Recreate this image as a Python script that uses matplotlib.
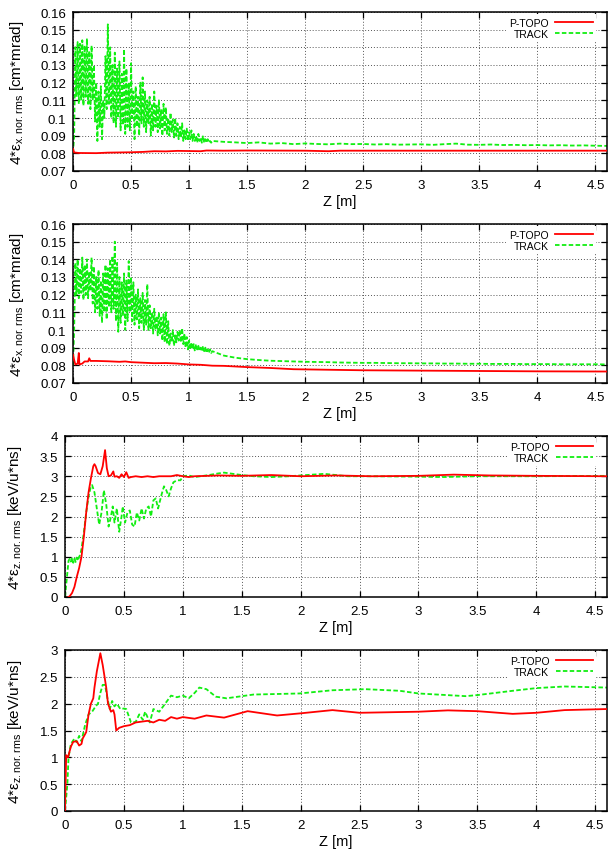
import numpy as np
import matplotlib
matplotlib.use("Agg")
import matplotlib.pyplot as plt
from matplotlib.ticker import FormatStrFormatter, MultipleLocator

plt.rcParams['font.family'] = ['Liberation Sans', 'DejaVu Sans']
plt.rcParams['mathtext.fontset'] = 'custom'
plt.rcParams['mathtext.rm'] = 'Liberation Sans'
plt.rcParams['mathtext.it'] = 'Liberation Sans:italic'

# ---------------- data ----------------
# Panel 1 (x emittance, case 1) TRACK: peaks and troughs of the fast oscillation
p1_track_hi = [0.140, 0.143, 0.142, 0.144, 0.141, 0.145, 0.138, 0.141, 0.130, 0.120,
               0.115, 0.118, 0.110, 0.135, 0.153, 0.140, 0.130, 0.137, 0.128, 0.132,
               0.125, 0.139, 0.128, 0.120, 0.131, 0.115, 0.118, 0.112, 0.120, 0.123,
               0.115, 0.110, 0.112, 0.108, 0.115, 0.107, 0.110, 0.105, 0.108, 0.106,
               0.100, 0.103, 0.099, 0.100, 0.097, 0.095, 0.097, 0.093, 0.094, 0.092,
               0.093, 0.091, 0.090, 0.091, 0.089, 0.090, 0.088, 0.088, 0.087, 0.087]
p1_track_lo = [0.090, 0.112, 0.108, 0.110, 0.107, 0.112, 0.108, 0.105, 0.110, 0.098,
               0.087, 0.095, 0.088, 0.100, 0.105, 0.108, 0.100, 0.097, 0.095, 0.100,
               0.093, 0.096, 0.091, 0.095, 0.093, 0.100, 0.088, 0.095, 0.090, 0.097,
               0.095, 0.092, 0.097, 0.090, 0.093, 0.095, 0.092, 0.094, 0.090, 0.093,
               0.091, 0.090, 0.092, 0.089, 0.090, 0.088, 0.089, 0.087, 0.088, 0.087,
               0.088, 0.087, 0.087, 0.086, 0.087, 0.086, 0.086, 0.086, 0.086, 0.086]
p1_track_tail = [0.0865, 0.0862, 0.0858, 0.0862, 0.0855, 0.0858, 0.0852, 0.0856, 0.0853, 0.0851,
                 0.0855, 0.0852, 0.0853, 0.0850, 0.0852, 0.0849, 0.0850, 0.0851, 0.0848, 0.0852,
                 0.0855, 0.0849, 0.0848, 0.0850, 0.0847, 0.0848, 0.0846, 0.0847, 0.0845, 0.0846,
                 0.0844, 0.0845, 0.0843, 0.0842]
p1_topo_z = [0.0, 0.01, 0.05, 0.2, 0.3, 0.4, 0.5, 0.6, 0.7, 0.8, 0.9, 1.0, 1.1, 1.15,
             1.3, 1.5, 2.0, 2.2, 2.3, 3.0, 3.5, 4.0, 4.6]
p1_topo = [0.0825, 0.0805, 0.0802, 0.0801, 0.0804, 0.0805, 0.0806, 0.0808, 0.0812, 0.0811,
           0.0814, 0.0813, 0.0812, 0.0816, 0.0815, 0.0816, 0.0815, 0.0812, 0.0815, 0.0815,
           0.0815, 0.0815, 0.0815]

# Panel 2 (x emittance, case 2)
p2_track_hi = [0.138, 0.140, 0.135, 0.141, 0.137, 0.140, 0.133, 0.141, 0.136, 0.130,
               0.134, 0.128, 0.132, 0.137, 0.135, 0.140, 0.142, 0.150, 0.138, 0.130,
               0.127, 0.132, 0.128, 0.139, 0.130, 0.127, 0.120, 0.123, 0.118, 0.121,
               0.117, 0.126, 0.114, 0.110, 0.112, 0.108, 0.110, 0.107, 0.109, 0.110,
               0.105, 0.098, 0.100, 0.097, 0.099, 0.100, 0.101, 0.098, 0.096, 0.094,
               0.093, 0.092, 0.092, 0.091, 0.090, 0.091, 0.090, 0.089, 0.089, 0.088]
p2_track_lo = [0.100, 0.120, 0.118, 0.121, 0.117, 0.120, 0.118, 0.122, 0.115, 0.110,
               0.112, 0.108, 0.104, 0.110, 0.106, 0.113, 0.110, 0.112, 0.105, 0.099,
               0.104, 0.108, 0.100, 0.105, 0.110, 0.105, 0.103, 0.106, 0.101, 0.104,
               0.100, 0.103, 0.100, 0.101, 0.098, 0.100, 0.097, 0.098, 0.094, 0.093,
               0.092, 0.091, 0.093, 0.091, 0.093, 0.094, 0.093, 0.092, 0.090, 0.089,
               0.089, 0.089, 0.088, 0.089, 0.088, 0.088, 0.088, 0.087, 0.087, 0.087]
p2_track_tail = [0.0855, 0.0843, 0.0835, 0.0830, 0.0826, 0.0824, 0.0822, 0.0820, 0.0819, 0.0818,
                 0.0816, 0.0815, 0.0814, 0.0814, 0.0813, 0.0812, 0.0812, 0.0811, 0.0811, 0.0810,
                 0.0810, 0.0809, 0.0809, 0.0808, 0.0808, 0.0808, 0.0807, 0.0807, 0.0807, 0.0806,
                 0.0806, 0.0806, 0.0806, 0.0805]
p2_topo_z = [0.0, 0.01, 0.02, 0.04, 0.05, 0.055, 0.08, 0.1, 0.13, 0.14, 0.15, 0.2, 0.3, 0.4,
             0.45, 0.5, 0.6, 0.7, 0.8, 0.9, 1.0, 1.1, 1.2, 1.3, 1.5, 1.7, 1.9, 2.2, 2.5,
             3.0, 3.5, 4.0, 4.6]
p2_topo = [0.0860, 0.0830, 0.0805, 0.0810, 0.0870, 0.0805, 0.0810, 0.0822, 0.0822, 0.0840,
           0.0825, 0.0825, 0.0823, 0.0820, 0.0822, 0.0818, 0.0815, 0.0812, 0.0813, 0.0810,
           0.0805, 0.0803, 0.0798, 0.0797, 0.0790, 0.0785, 0.0778, 0.0775, 0.0772, 0.0770,
           0.0768, 0.0766, 0.0765]

# Panel 3 (z emittance, case 1)
p3_topo_z = [0.03, 0.04, 0.06, 0.08, 0.10, 0.12, 0.14, 0.16, 0.18, 0.20, 0.22, 0.24, 0.25,
             0.26, 0.28, 0.30, 0.32, 0.34, 0.355, 0.37, 0.39, 0.41, 0.42, 0.44, 0.46, 0.48,
             0.50, 0.52, 0.54, 0.56, 0.60, 0.65, 0.70, 0.75, 0.80, 0.90, 0.95, 1.00, 1.05,
             1.10, 1.30, 1.50, 1.75, 2.00, 2.30, 2.60, 3.00, 3.30, 3.60, 4.00, 4.60]
p3_topo = [0.0, 0.02, 0.1, 0.25, 0.5, 0.72, 1.0, 1.5, 2.1, 2.6, 2.95, 3.25, 3.3,
           3.25, 3.08, 3.05, 3.25, 3.65, 3.2, 3.0, 3.02, 3.12, 2.99, 3.0, 2.96, 3.05,
           2.98, 3.1, 2.96, 2.98, 3.0, 2.98, 3.0, 2.98, 3.0, 3.0, 3.03, 3.0, 2.98,
           3.0, 3.02, 3.01, 3.03, 3.0, 3.02, 3.0, 3.01, 3.04, 3.02, 3.01, 3.0]
p3_track_z = [0.0, 0.01, 0.02, 0.03, 0.04, 0.05, 0.06, 0.07, 0.08, 0.09, 0.10, 0.11, 0.12,
              0.13, 0.14, 0.16, 0.18, 0.20, 0.22, 0.23, 0.25, 0.27, 0.29, 0.31, 0.33, 0.35,
              0.37, 0.39, 0.405, 0.42, 0.44, 0.46, 0.48, 0.49, 0.51, 0.53, 0.55, 0.57, 0.59,
              0.61, 0.63, 0.65, 0.67, 0.69, 0.71, 0.73, 0.75, 0.77, 0.79, 0.82, 0.84, 0.86,
              0.88, 0.90, 0.92, 0.95, 0.98, 1.00, 1.05, 1.10, 1.20, 1.30, 1.35, 1.40, 1.50,
              1.60, 1.75, 1.90, 2.00, 2.20, 2.40, 2.60, 3.00, 3.20, 3.50, 4.00, 4.60]
p3_track = [0.0, 0.3, 0.6, 0.9, 0.95, 0.88, 0.98, 0.85, 0.95, 0.87, 0.98, 0.9, 1.0,
            1.05, 1.2, 1.6, 2.1, 2.5, 2.75, 2.78, 2.6, 2.2, 1.8, 2.1, 2.65, 2.3,
            1.75, 2.0, 2.25, 1.85, 2.2, 1.62, 2.0, 2.25, 1.85, 2.1, 2.15, 1.8, 1.75,
            2.1, 1.9, 2.2, 1.95, 2.2, 2.25, 2.0, 2.4, 2.45, 2.2, 2.55, 2.75, 2.65,
            2.5, 2.7, 2.85, 2.9, 2.9, 3.0, 3.02, 2.98, 3.02, 3.07, 3.09, 3.07, 3.03,
            3.0, 2.98, 3.0, 3.02, 3.06, 3.0, 3.0, 2.99, 2.98, 3.0, 3.0, 3.01]

# Panel 4 (z emittance, case 2)
p4_topo_z = [0.0, 0.01, 0.025, 0.05, 0.07, 0.10, 0.12, 0.14, 0.15, 0.18, 0.20, 0.22, 0.24,
             0.25, 0.27, 0.30, 0.32, 0.35, 0.365, 0.39, 0.41, 0.42, 0.435, 0.46, 0.50, 0.55,
             0.60, 0.70, 0.75, 0.80, 0.85, 0.90, 0.95, 1.00, 1.10, 1.20, 1.35, 1.55, 1.80,
             2.00, 2.27, 2.50, 3.00, 3.25, 3.50, 3.80, 4.00, 4.24, 4.60]
p4_topo = [0.0, 1.04, 1.0, 1.2, 1.29, 1.3, 1.22, 1.25, 1.35, 1.47, 1.8, 2.0, 2.1,
           2.3, 2.6, 2.94, 2.72, 2.3, 2.0, 1.85, 1.88, 1.8, 1.5, 1.55, 1.58, 1.6,
           1.65, 1.68, 1.65, 1.7, 1.68, 1.75, 1.72, 1.75, 1.72, 1.78, 1.74, 1.86, 1.78,
           1.82, 1.88, 1.83, 1.85, 1.875, 1.86, 1.81, 1.83, 1.88, 1.9]
p4_track_z = [0.0, 0.02, 0.03, 0.05, 0.08, 0.10, 0.12, 0.14, 0.17, 0.20, 0.23, 0.26, 0.28,
              0.30, 0.32, 0.34, 0.36, 0.38, 0.40, 0.42, 0.44, 0.47, 0.50, 0.52, 0.56, 0.60,
              0.63, 0.66, 0.68, 0.72, 0.75, 0.80, 0.85, 0.90, 0.95, 1.00, 1.05, 1.10, 1.14,
              1.20, 1.28, 1.37, 1.60, 1.99, 2.27, 2.55, 2.84, 3.00, 3.40, 3.50, 3.80, 4.00,
              4.24, 4.60]
p4_track = [0.0, 0.5, 1.0, 1.25, 1.35, 1.28, 1.4, 1.3, 1.6, 1.8, 1.85, 1.95, 2.0,
            2.2, 2.35, 2.35, 2.1, 1.9, 2.05, 1.95, 2.0, 1.9, 1.91, 1.9, 1.65, 1.66,
            1.8, 1.7, 1.85, 1.65, 1.9, 1.85, 2.0, 2.15, 2.12, 2.15, 2.1, 2.2, 2.3,
            2.27, 2.13, 2.1, 2.17, 2.19, 2.25, 2.27, 2.24, 2.19, 2.14, 2.16, 2.24, 2.29,
            2.32, 2.3]

x_ticks = [0, 0.5, 1, 1.5, 2, 2.5, 3, 3.5, 4, 4.5]
legend_labels = ['P-TOPO', 'TRACK']
ylabels = ['4*ε$_{\\mathrm{x.nor.rms}}$ [cm*mrad]',
           '4*ε$_{\\mathrm{x.nor.rms}}$ [cm*mrad]',
           '4*ε$_{\\mathrm{z.nor.rms}}$ [keV/u*ns]',
           '4*ε$_{\\mathrm{z.nor.rms}}$ [keV/u*ns]']


def osc_series(hi, lo, tail):
    z_hi = np.round(0.02 * np.arange(1, len(hi) + 1), 4)
    z_lo = np.round(z_hi - 0.01, 4)
    z_tail = np.round(1.2 + 0.1 * np.arange(1, len(tail) + 1), 4)
    z = [0.0]
    v = [0.080]
    for a, b, c, d in zip(z_lo, lo, z_hi, hi):
        z += [a, c]
        v += [b, d]
    z += list(z_tail)
    v += list(tail)
    return np.array(z), np.array(v)


p1z, p1v = osc_series(p1_track_hi, p1_track_lo, p1_track_tail)
p2z, p2v = osc_series(p2_track_hi, p2_track_lo, p2_track_tail)

panels = [
    dict(topo=(p1_topo_z, p1_topo), track=(p1z, p1v), ylim=(0.07, 0.16), ystep=0.01,
         pos=[73 / 608, 1 - 172 / 854, 534 / 608, 159 / 854], lab=-0.088, lx=0.979),
    dict(topo=(p2_topo_z, p2_topo), track=(p2z, p2v), ylim=(0.07, 0.16), ystep=0.01,
         pos=[73 / 608, 1 - 384 / 854, 534 / 608, 159 / 854], lab=-0.088, lx=0.979),
    dict(topo=(p3_topo_z, p3_topo), track=(p3_track_z, p3_track), ylim=(0, 4), ystep=0.5,
         pos=[65 / 608, 1 - 598 / 854, 542 / 608, 161 / 854], lab=-0.076, lx=0.980),
    dict(topo=(p4_topo_z, p4_topo), track=(p4_track_z, p4_track), ylim=(0, 3), ystep=0.5,
         pos=[65 / 608, 1 - 812 / 854, 542 / 608, 161 / 854], lab=-0.076, lx=0.980),
]

RED = '#ff0000'
GREEN = '#11ee11'

fig = plt.figure(figsize=(6.08, 8.54), dpi=100)
for i, p in enumerate(panels):
    ax = fig.add_axes(p['pos'])
    ax.plot(p['topo'][0], p['topo'][1], color=RED, lw=1.3, label=legend_labels[0], zorder=3)
    ax.plot(p['track'][0], p['track'][1], color=GREEN, lw=1.3, ls=(0, (2.5, 1.3)),
            label=legend_labels[1], zorder=2)
    ax.set_xlim(0, 4.6)
    ax.set_ylim(*p['ylim'])
    ax.set_xticks(x_ticks)
    ax.yaxis.set_major_locator(MultipleLocator(p['ystep']))
    ax.xaxis.set_major_formatter(FormatStrFormatter('%g'))
    ax.yaxis.set_major_formatter(FormatStrFormatter('%g'))
    ax.tick_params(direction='in', length=4, width=0.9, top=True, right=True,
                   labelsize=9.5, pad=5)
    ax.tick_params(axis='x', pad=6)
    ax.grid(True, linestyle=(0, (1, 2)), color='#555555', lw=0.7, zorder=0)
    for s in ax.spines.values():
        s.set_linewidth(1.1)
    ax.set_xlabel('Z [m]', fontsize=10.5, labelpad=2)
    ax.set_ylabel(ylabels[i], fontsize=11)
    ax.yaxis.set_label_coords(p['lab'], 0.5)
    leg = ax.legend(loc='upper right', bbox_to_anchor=(p['lx'], 0.985),
                    markerfirst=False, fontsize=7.5, frameon=True,
                    handlelength=3.6, handletextpad=0.6, labelspacing=0.15,
                    borderaxespad=0.0, borderpad=0.3, fancybox=False, framealpha=1)
    leg.get_frame().set_edgecolor('none')
    leg.get_frame().set_facecolor('white')

fig.savefig('out.png', dpi=100)
